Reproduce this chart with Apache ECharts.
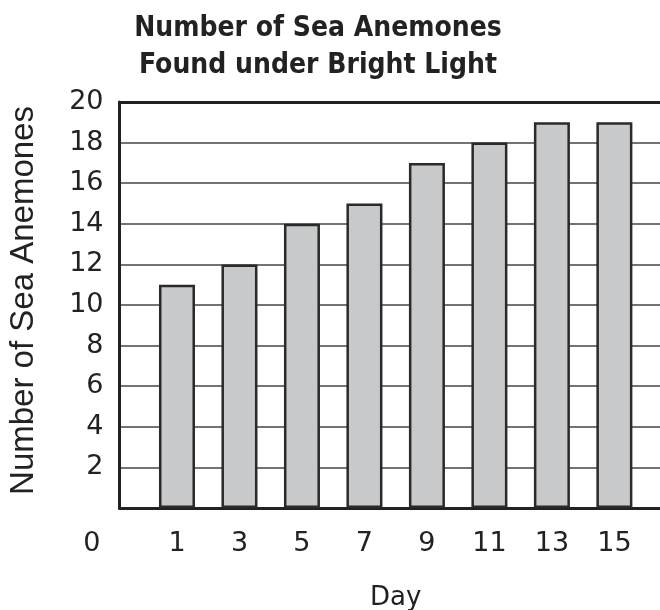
<!DOCTYPE html>
<html>
<head>
<meta charset="utf-8">
<script src="https://cdn.jsdelivr.net/npm/echarts@6/dist/echarts.min.js"></script>
<style>
  html, body { margin: 0; padding: 0; background: #fff; }
  #chart { width: 660px; height: 610px; }
</style>
</head>
<body>
<div id="chart"></div>
<script>
const days = [1, 3, 5, 7, 9, 11, 13, 15]
const counts = [11, 12, 14, 15, 17, 18, 19, 19]

const ink = '#222'

const chart = echarts.init(document.getElementById('chart'), null, { renderer: 'canvas' })

chart.setOption({
  animation: false,
  title: {
    text: 'Number of Sea Anemones\nFound under Bright Light',
    left: 313,
    top: 5,
    textAlign: 'center',
    textStyle: {
      fontFamily: 'DejaVu Sans Condensed',
      fontWeight: 'bold',
      fontSize: 28,
      lineHeight: 37,
      color: ink,
    },
  },
  grid: { left: 119.5, right: 0, top: 102, bottom: 102, outerBoundsMode: 'none', containLabel: false },
  xAxis: [
    {
      type: 'value',
      min: -0.84,
      max: 16.46,
      name: 'Day',
      nameLocation: 'middle',
      nameGap: 77,
      nameTextStyle: { fontFamily: 'DejaVu Sans', fontSize: 26, color: ink, padding: [0, 0, 0, 12] },
      axisLine: { show: true, onZero: false, lineStyle: { color: ink, width: 3 } },
      axisTick: { show: false },
      splitLine: { show: false },
      axisLabel: {
        customValues: days,
        margin: 22,
        fontFamily: 'DejaVu Sans',
        fontSize: 27,
        color: ink,
      },
    },
    {
      type: 'value',
      position: 'top',
      min: -0.84,
      max: 16.46,
      axisLine: { show: true, onZero: false, lineStyle: { color: ink, width: 3 } },
      axisTick: { show: false },
      axisLabel: { show: false },
      splitLine: { show: false },
    },
  ],
  yAxis: {
    type: 'value',
    min: 0,
    max: 20,
    interval: 2,
    name: 'Number of Sea Anemones',
    nameLocation: 'middle',
    nameRotate: 90,
    nameGap: 79,
    nameTextStyle: { fontFamily: 'Liberation Sans', fontSize: 33, color: ink, padding: [0, 0, 0, 9] },
    axisLine: { show: true, onZero: false, lineStyle: { color: ink, width: 3 } },
    axisTick: { show: false },
    splitLine: { show: true, lineStyle: { color: '#444', width: 1.5 } },
    axisLabel: {
      margin: 16,
      fontFamily: 'DejaVu Sans',
      fontSize: 27,
      color: ink,
      formatter: v => (v === 0 ? '{zero|0}' : String(v)),
      rich: {
        zero: { fontFamily: 'DejaVu Sans', fontSize: 27, color: ink, padding: [72, 3, 0, 0] },
      },
    },
  },
  series: [
    {
      type: 'bar',
      xAxisIndex: 0,
      barWidth: 36,
      data: days.map((d, i) => [d, counts[i]]),
      itemStyle: { color: '#c8c9cb', borderColor: '#2a2a2a', borderWidth: 2.5 },
    },
  ],
})
</script>
</body>
</html>
